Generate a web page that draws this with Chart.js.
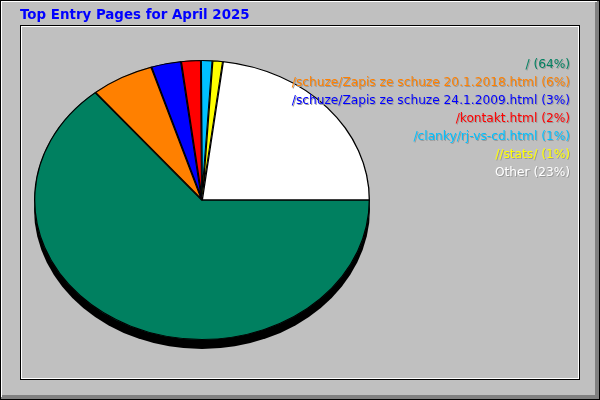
<!DOCTYPE html>
<html>
<head>
<meta charset="utf-8">
<script src="https://cdn.jsdelivr.net/npm/chart.js@4"></script>
<style>
  html, body { margin: 0; padding: 0; background: #c0c0c0; }
  #wrap { width: 600px; height: 400px; }
</style>
</head>
<body>
<div id="wrap"><canvas id="pie" width="600" height="400"></canvas></div>
<script>
const title = "Top Entry Pages for April 2025";
const pages = ["/", "/schuze/Zapis ze schuze 20.1.2018.html", "/schuze/Zapis ze schuze 24.1.2009.html", "/kontakt.html", "/clanky/rj-vs-cd.html", "//stats/", "Other"];
const shares = [64.0, 6.1, 2.9, 1.9, 1.1, 1.0, 23.0];
const colors = ["#008060", "#ff8000", "#0000ff", "#ff0000", "#00c0ff", "#ffff00", "#ffffff"];

const SQUASH = 140 / 168;

// frame + title, webalizer style
const frame = {
  id: "frame",
  beforeDraw(chart) {
    const ctx = chart.ctx;
    ctx.save();
    ctx.fillStyle = "#c0c0c0";
    ctx.fillRect(0, 0, 600, 400);
    ctx.fillStyle = "#808080";
    ctx.fillRect(595, 0, 5, 400);
    ctx.fillRect(0, 395, 600, 5);
    ctx.fillStyle = "#ffffff";
    ctx.fillRect(0, 0, 597, 2);
    ctx.fillRect(0, 0, 2, 397);
    ctx.strokeStyle = "#000";
    ctx.lineWidth = 1;
    ctx.strokeRect(0.5, 0.5, 599, 399);
    ctx.strokeRect(20.5, 25.5, 559, 354);
    ctx.strokeStyle = "#fff";
    ctx.strokeRect(21.5, 26.5, 557, 352);
    ctx.fillStyle = "#0000ff";
    ctx.font = "bold 13.4px 'DejaVu Sans'";
    ctx.textBaseline = "alphabetic";
    ctx.fillText(title, 20, 19);
    ctx.restore();
  },
  afterDraw(chart) {
    const ctx = chart.ctx;
    const total = shares.reduce((a, b) => a + b, 0);
    ctx.save();
    ctx.font = "12.2px 'DejaVu Sans'";
    ctx.textAlign = "right";
    pages.forEach((p, i) => {
      const txt = p + " (" + Math.round(shares[i] / total * 100) + "%)";
      const y = 68 + i * 18;
      ctx.fillStyle = "#9a9a9a";
      ctx.fillText(txt, 571, y + 1);
      ctx.fillStyle = colors[i];
      ctx.fillText(txt, 570, y);
    });
    ctx.restore();
  }
};

// squash the round pie into an ellipse with a black edge underneath
const ellipse = {
  id: "ellipse",
  beforeDatasetsDraw(chart) {
    const arc = chart.getDatasetMeta(0).data[0];
    const { x, y, outerRadius } = arc;
    const ctx = chart.ctx;
    ctx.save();
    ctx.fillStyle = "#000";
    ctx.beginPath();
    ctx.ellipse(x, y + 9, outerRadius, outerRadius * SQUASH, 0, 0, Math.PI * 2);
    ctx.fill();
    ctx.translate(x, y);
    ctx.scale(1, SQUASH);
    ctx.translate(-x, -y);
  },
  afterDatasetsDraw(chart) {
    chart.ctx.restore();
  }
};

new Chart(document.getElementById("pie"), {
  type: "pie",
  data: {
    labels: pages,
    datasets: [{ data: shares, backgroundColor: colors, borderColor: "#000", borderWidth: 1, borderAlign: "inner" }]
  },
  options: {
    responsive: false,
    animation: false,
    rotation: 90,
    layout: { padding: { left: 34, right: 230, top: 32, bottom: 32 } },
    plugins: { legend: { display: false }, tooltip: { enabled: false }, title: { display: false } }
  },
  plugins: [frame, ellipse]
});
</script>
</body>
</html>
